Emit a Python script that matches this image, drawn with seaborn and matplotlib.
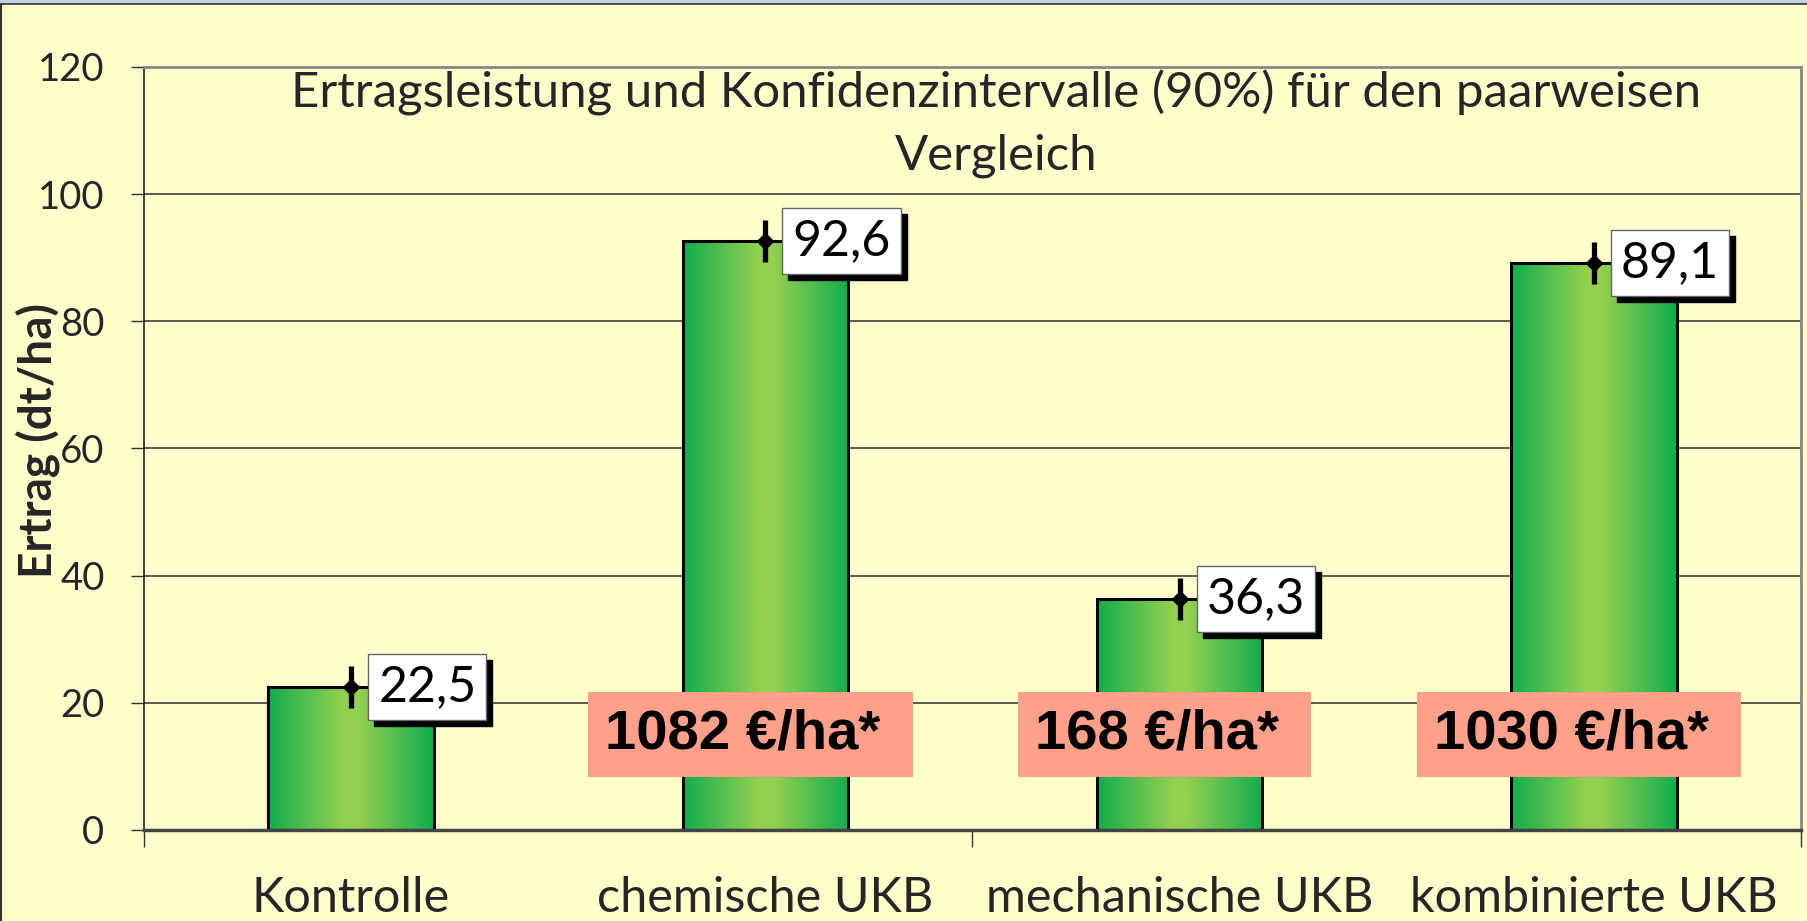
import numpy as np
import pandas as pd
import matplotlib
matplotlib.use("Agg")
import matplotlib.pyplot as plt
import seaborn as sns
from matplotlib.colors import LinearSegmentedColormap
from matplotlib.patches import Rectangle
from matplotlib.lines import Line2D

# ---- data ----
categories = ["Kontrolle", "chemische UKB", "mechanische UKB", "kombinierte UKB"]
ertrag = [22.5, 92.6, 36.3, 89.1]
ci_half = [3.3, 3.3, 3.3, 3.3]
value_labels = ["22,5", "92,6", "36,3", "89,1"]
kosten_labels = [None, "1082 €/ha* ", "168 €/ha* ", "1030 €/ha* "]
yticks = [0, 20, 40, 60, 80, 100, 120]
title = "Ertragsleistung und Konfidenzintervalle (90%) für den paarweisen\nVergleich"
ylabel = "Ertrag (dt/ha)"

BG = "#FFFFCC"
sns.set_style("white")
plt.rcParams["font.family"] = ["Lato", "DejaVu Sans"]

W, H, DPI = 1808, 921, 100
fig = plt.figure(figsize=(W / DPI, H / DPI), dpi=DPI, facecolor=BG)
ax = fig.add_axes([144 / W, 1 - 830 / H, (1801 - 144) / W, (830 - 67) / H])
ax.set_facecolor(BG)

df = pd.DataFrame({"cat": categories, "val": ertrag})
sns.barplot(data=df, x="cat", y="val", width=0.4, errorbar=None,
            facecolor="none", edgecolor="black", linewidth=2.2, ax=ax, zorder=3)

# gradient fill clipped to each bar
cmap = LinearSegmentedColormap.from_list(
    "g", [(0.0, "#12AD4D"), (0.45, "#92D050"), (0.55, "#92D050"), (1.0, "#12AD4D")])
grad = np.linspace(0, 1, 256).reshape(1, -1)
for p in ax.patches:
    x0, y0 = p.get_x(), p.get_y()
    w, h = p.get_width(), p.get_height()
    im = ax.imshow(grad, cmap=cmap, extent=[x0, x0 + w, y0, y0 + h],
                   aspect="auto", zorder=2.5, interpolation="bilinear")
    im.set_clip_path(p)

ax.set_xlim(-0.5, 3.5)
ax.set_ylim(0, 120)
ax.set_yticks(yticks)
ax.set_yticklabels([str(t) for t in yticks])
ax.yaxis.grid(True, color="#2e2e2e", linewidth=1.1)
ax.set_axisbelow(True)

# x ticks: boundaries only (major), labels at centers (minor)
ax.set_xticks([-0.5, 1.5, 3.5])
ax.set_xticklabels(["", "", ""])
ax.set_xticks(range(len(categories)), minor=True)
ax.set_xticklabels(categories, minor=True, fontsize=35)
ax.tick_params(axis="x", which="major", length=12, width=1, color="#333333",
               direction="out", bottom=True)
ax.tick_params(axis="x", which="minor", length=0, pad=33)
ax.tick_params(axis="y", length=9.5, width=1, color="#333333", direction="out",
               pad=19, labelsize=27.5, left=True)
ax.set_xlabel("")

for s in ["top", "right"]:
    ax.spines[s].set_color("#888888")
    ax.spines[s].set_linewidth(2)
ax.spines["left"].set_color("#222222")
ax.spines["left"].set_linewidth(1.2)
ax.spines["bottom"].set_color("#444444")
ax.spines["bottom"].set_linewidth(2.5)
ax.spines["bottom"].set_zorder(4)

# y label
ax.set_ylabel(ylabel, fontsize=33, fontweight="bold")
ax.yaxis.set_label_coords(-0.0507, 0.51)

# error bars with diamond markers
ax.errorbar(range(len(ertrag)), ertrag, yerr=ci_half, fmt="D", color="black",
            ms=8, elinewidth=3.8, capsize=0, zorder=6)

# value boxes with shadow
for i, (v, lab) in enumerate(zip(ertrag, value_labels)):
    ax.annotate(lab, xy=(i, v), xytext=(19.5 + 4.3, -4.3), textcoords="offset points",
                ha="left", va="center", fontsize=36, color="black", zorder=7,
                bbox=dict(boxstyle="square,pad=0.2", fc="black", ec="black", lw=1))
    ax.annotate(lab, xy=(i, v), xytext=(19.5, 0), textcoords="offset points",
                ha="left", va="center", fontsize=36, color="black", zorder=8,
                bbox=dict(boxstyle="square,pad=0.2", fc="white", ec="#666666", lw=1))

# cost boxes
for i, lab in enumerate(kosten_labels):
    if lab is None:
        continue
    ax.annotate(lab, xy=(i, 15), xytext=(-10.8, 0), textcoords="offset points",
                ha="center", va="center", fontsize=40.5, fontweight="bold",
                family=["Liberation Sans", "DejaVu Sans"], color="black", zorder=9,
                bbox=dict(boxstyle="square,pad=0.3", fc="#FFA08A", ec="none"))

# title inside plot area
fig.text(996 / W, 1 - 124 / H, title, ha="center", va="center", fontsize=35.4,
         linespacing=1.5, multialignment="center")

# outer frame
fig.patches.append(Rectangle((0, 1 - 4 / H), 1, 4 / H, transform=fig.transFigure,
                             facecolor="#C3CFE0", edgecolor="none", zorder=0))
fig.lines.append(Line2D([0, 1], [1 - 4.5 / H] * 2, transform=fig.transFigure,
                        color="#333333", lw=1.2))
fig.lines.append(Line2D([1.5 / W] * 2, [0, 1 - 4.5 / H], transform=fig.transFigure,
                        color="#333333", lw=1.5))

fig.savefig("out.png", dpi=DPI, facecolor=BG)
